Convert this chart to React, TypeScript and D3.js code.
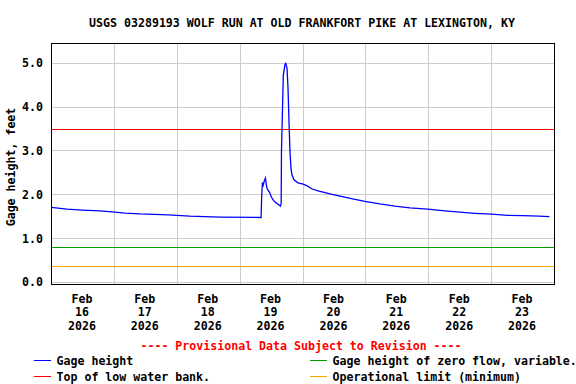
import React, { useEffect, useRef } from 'react';
import * as d3 from 'd3';

const title = 'USGS 03289193 WOLF RUN AT OLD FRANKFORT PIKE AT LEXINGTON, KY';

// gage height readings (local time), feet
const times: string[] = [
  '2026-02-16T00:00', '2026-02-16T03:15', '2026-02-16T06:00', '2026-02-16T11:40',
  '2026-02-16T18:30', '2026-02-16T23:05', '2026-02-17T04:05', '2026-02-17T09:50',
  '2026-02-17T20:30', '2026-02-18T04:50', '2026-02-18T16:20', '2026-02-19T08:00',
  '2026-02-19T08:15', '2026-02-19T08:30', '2026-02-19T08:50', '2026-02-19T09:15',
  '2026-02-19T09:40', '2026-02-19T10:00', '2026-02-19T10:26', '2026-02-19T11:12',
  '2026-02-19T11:58', '2026-02-19T12:43', '2026-02-19T13:29', '2026-02-19T14:15',
  '2026-02-19T15:01', '2026-02-19T15:24', '2026-02-19T15:40', '2026-02-19T15:47',
  '2026-02-19T16:29', '2026-02-19T17:08', '2026-02-19T17:24', '2026-02-19T17:54',
  '2026-02-19T18:17', '2026-02-19T18:39', '2026-02-19T19:02', '2026-02-19T19:25',
  '2026-02-19T19:48', '2026-02-19T20:34', '2026-02-19T22:05', '2026-02-20T00:05',
  '2026-02-20T01:36', '2026-02-20T03:30', '2026-02-20T05:46', '2026-02-20T08:26',
  '2026-02-20T11:06', '2026-02-20T14:10', '2026-02-20T17:10', '2026-02-20T19:25',
  '2026-02-20T23:37', '2026-02-21T05:22', '2026-02-21T11:05', '2026-02-21T16:50',
  '2026-02-21T23:40', '2026-02-22T06:10', '2026-02-22T11:53', '2026-02-22T17:35',
  '2026-02-23T00:00', '2026-02-23T06:00', '2026-02-23T12:00', '2026-02-23T18:00',
  '2026-02-23T22:05',
];
const heights: number[] = [
  1.71, 1.69, 1.67, 1.65,
  1.63, 1.61, 1.58, 1.56,
  1.54, 1.51, 1.49, 1.48,
  2.0, 2.28, 2.22, 2.32,
  2.38, 2.22, 2.12, 2.06,
  1.94, 1.87, 1.83, 1.79,
  1.76, 1.74, 1.8, 2.98,
  4.73, 4.98, 5.0, 4.89,
  4.43, 3.67, 2.98, 2.6,
  2.45, 2.34, 2.27, 2.24,
  2.2, 2.13, 2.09, 2.05,
  2.01, 1.97, 1.93, 1.9,
  1.85, 1.79, 1.74, 1.7,
  1.67, 1.63, 1.6, 1.575,
  1.555, 1.53, 1.52, 1.51,
  1.5,
];

const yTicks = [0, 1, 2, 3, 4, 5];
const dayTicks = ['2026-02-16', '2026-02-17', '2026-02-18', '2026-02-19', '2026-02-20', '2026-02-21', '2026-02-22', '2026-02-23'];

// reference levels
const lowWaterBank = 3.5;
const zeroFlow = 0.8;
const operationalLimit = 0.37;

const legendItems = [
  { label: 'Gage height', color: '#0000ff', col: 0, row: 0 },
  { label: 'Gage height of zero flow, variable.', color: '#00a000', col: 1, row: 0 },
  { label: 'Top of low water bank.', color: '#ff0000', col: 0, row: 1 },
  { label: 'Operational limit (minimum)', color: '#ffa500', col: 1, row: 1 },
];

const W = 576;
const H = 384;
const FONT = '"DejaVu Sans Mono", monospace';

const Chart: React.FC = () => {
  const svgRef = useRef<SVGSVGElement>(null);

  useEffect(() => {
    if (!svgRef.current) return;
    const svg = d3.select(svgRef.current);
    svg.selectAll('*').remove();

    const left = 51.5;
    const right = 554.5;
    const top = 43.5;
    const bottom = 284.5;

    const parse = d3.timeParse('%Y-%m-%dT%H:%M');
    const parseDay = d3.timeParse('%Y-%m-%d');
    const data = times.map((t, i) => ({ t: parse(t) as Date, v: heights[i] }));

    const x = d3
      .scaleTime()
      .domain([parseDay('2026-02-16') as Date, parseDay('2026-02-24') as Date])
      .range([left, right]);
    const y = d3.scaleLinear().domain([0, 5]).range([282.3, 63.3]);

    svg.append('rect').attr('width', W).attr('height', H).attr('fill', 'white');

    // title
    svg
      .append('text')
      .attr('x', 302)
      .attr('y', 27)
      .attr('text-anchor', 'middle')
      .attr('font-family', FONT)
      .attr('font-weight', 'bold')
      .attr('font-size', 11.6)
      .text(title);

    // grid
    const grid = svg.append('g').attr('stroke', '#cccccc').attr('shape-rendering', 'crispEdges');
    grid
      .selectAll('line.h')
      .data(yTicks)
      .enter()
      .append('line')
      .attr('x1', left)
      .attr('x2', right)
      .attr('y1', (d) => y(d))
      .attr('y2', (d) => y(d));
    const midnights = d3.timeDay.range(parseDay('2026-02-17') as Date, parseDay('2026-02-24') as Date);
    grid
      .selectAll('line.v')
      .data(midnights)
      .enter()
      .append('line')
      .attr('x1', (d) => x(d))
      .attr('x2', (d) => x(d))
      .attr('y1', top)
      .attr('y2', bottom);

    // reference lines
    const refs = [
      { v: lowWaterBank, c: '#ff0000' },
      { v: zeroFlow, c: '#00a000' },
      { v: operationalLimit, c: '#ffa500' },
    ];
    svg
      .append('g')
      .attr('shape-rendering', 'crispEdges')
      .selectAll('line')
      .data(refs)
      .enter()
      .append('line')
      .attr('x1', left)
      .attr('x2', right)
      .attr('y1', (d) => Math.round(y(d.v)) + 0.5)
      .attr('y2', (d) => Math.round(y(d.v)) + 0.5)
      .attr('stroke', (d) => d.c);

    // gage height line
    const line = d3
      .line<{ t: Date; v: number }>()
      .x((d) => x(d.t))
      .y((d) => y(d.v));
    svg
      .append('path')
      .datum(data)
      .attr('d', line)
      .attr('fill', 'none')
      .attr('stroke', '#0000ff')
      .attr('stroke-width', 1.3);

    // frame
    svg
      .append('rect')
      .attr('x', left)
      .attr('y', top)
      .attr('width', right - left)
      .attr('height', bottom - top)
      .attr('fill', 'none')
      .attr('stroke', 'black')
      .attr('stroke-width', 1.5)
      .attr('shape-rendering', 'crispEdges');

    // y tick labels
    svg
      .append('g')
      .selectAll('text')
      .data(yTicks)
      .enter()
      .append('text')
      .attr('x', 43)
      .attr('y', (d) => y(d) + 4)
      .attr('text-anchor', 'end')
      .attr('font-family', FONT)
      .attr('font-weight', 'bold')
      .attr('font-size', 11.6)
      .text((d) => d3.format('.1f')(d));

    svg
      .append('text')
      .attr('transform', 'translate(15, 167) rotate(-90)')
      .attr('text-anchor', 'middle')
      .attr('font-family', FONT)
      .attr('font-weight', 'bold')
      .attr('font-size', 11.6)
      .text('Gage height, feet');

    // x tick labels at noon
    const xl = svg
      .append('g')
      .selectAll('text')
      .data(dayTicks)
      .enter()
      .append('text')
      .attr('text-anchor', 'middle')
      .attr('font-family', FONT)
      .attr('font-weight', 'bold')
      .attr('font-size', 11.6);
    const fmtLines = [d3.timeFormat('%b'), d3.timeFormat('%d'), d3.timeFormat('%Y')];
    fmtLines.forEach((f, i) => {
      xl.append('tspan')
        .attr('x', (d) => x(d3.timeHour.offset(parseDay(d) as Date, 12)) - 1)
        .attr('y', 303 + i * 13.4)
        .text((d) => f(parseDay(d) as Date));
    });

    svg
      .append('text')
      .attr('x', 301)
      .attr('y', 350)
      .attr('text-anchor', 'middle')
      .attr('font-family', FONT)
      .attr('font-weight', 'bold')
      .attr('font-size', 11.6)
      .attr('fill', '#ff0000')
      .text('---- Provisional Data Subject to Revision ----');

    // legend
    const colX = [33.5, 309.5];
    const rowY = [364.5, 380.5];
    const lg = svg
      .append('g')
      .selectAll('g')
      .data(legendItems)
      .enter()
      .append('g')
      .attr('transform', (d) => `translate(${colX[d.col]}, ${rowY[d.row]})`);
    lg.append('line')
      .attr('x1', 0)
      .attr('x2', 17)
      .attr('y1', -4)
      .attr('y2', -4)
      .attr('stroke', (d) => d.color)
      .attr('shape-rendering', 'crispEdges');
    lg.append('text')
      .attr('x', 23)
      .attr('y', 0)
      .attr('font-family', FONT)
      .attr('font-weight', 'bold')
      .attr('font-size', 11.6)
      .text((d) => d.label);
  }, []);

  return <svg ref={svgRef} width={W} height={H} style={{ position: 'absolute', left: 0, top: 0 }}></svg>;
};

export default function App() {
  return <Chart />;
}
